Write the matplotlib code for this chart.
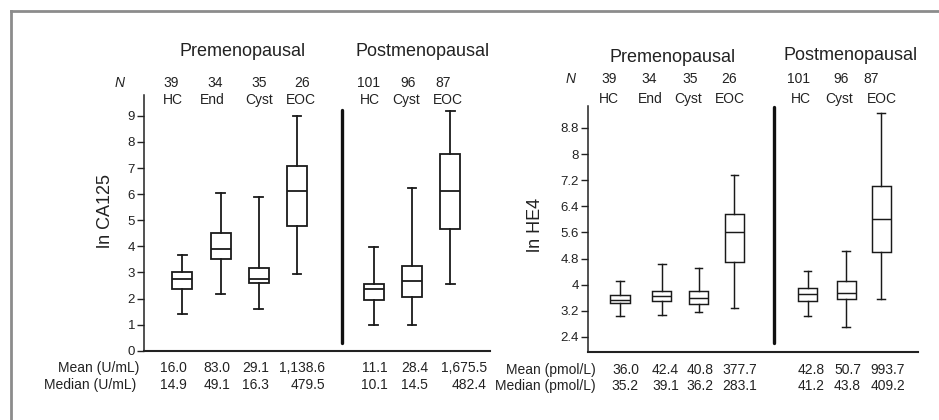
import matplotlib
matplotlib.use("Agg")
import matplotlib.pyplot as plt

plt.rcParams['font.family'] = ['Liberation Sans', 'DejaVu Sans']

# ---------------- data ----------------
groups = ["HC", "End", "Cyst", "EOC", "HC", "Cyst", "EOC"]
n_counts = ["39", "34", "35", "26", "101", "96", "87"]

ca125_whislo = [1.41, 2.17, 1.61, 2.94, 0.99, 0.99, 2.56]
ca125_q1     = [2.35, 3.50, 2.60, 4.79, 1.94, 2.06, 4.65]
ca125_med    = [2.74, 3.89, 2.76, 6.13, 2.37, 2.68, 6.13]
ca125_q3     = [3.00, 4.50, 3.17, 7.09, 2.56, 3.26, 7.54]
ca125_whishi = [3.67, 6.06, 5.88, 9.01, 3.99, 6.23, 9.19]
ca125_mean_txt = ["16.0", "83.0", "29.1", "1,138.6", "11.1", "28.4", "1,675.5"]
ca125_median_txt = ["14.9", "49.1", "16.3", "479.5", "10.1", "14.5", "482.4"]

he4_whislo = [3.03, 3.07, 3.17, 3.29, 3.03, 2.71, 3.57]
he4_q1     = [3.45, 3.49, 3.40, 4.70, 3.49, 3.57, 5.01]
he4_med    = [3.54, 3.66, 3.58, 5.62, 3.71, 3.74, 6.01]
he4_q3     = [3.70, 3.82, 3.80, 6.17, 3.89, 4.12, 7.02]
he4_whishi = [4.12, 4.64, 4.51, 7.36, 4.42, 5.04, 9.27]
he4_mean_txt = ["36.0", "42.4", "40.8", "377.7", "42.8", "50.7", "993.7"]
he4_median_txt = ["35.2", "39.1", "36.2", "283.1", "41.2", "43.8", "409.2"]

ca125_ticks = [0, 1, 2, 3, 4, 5, 6, 7, 8, 9]
he4_ticks = [2.4, 3.2, 4.0, 4.8, 5.6, 6.4, 7.2, 8.0, 8.8]
he4_ticklabels = ["2.4", "3.2", "4", "4.8", "5.6", "6.4", "7.2", "8", "8.8"]

# ---------------- layout ----------------
W, H = 939, 420
fig = plt.figure(figsize=(W / 100, H / 100), dpi=100)
INK = "#222222"

def fx(px):
    return px / W

def fy(py):
    return 1 - py / H

# frame lines (left & top)
fig.add_artist(plt.Line2D([fx(11), fx(11)], [fy(11), 0], color="#8c8c8c", lw=2.0))
fig.add_artist(plt.Line2D([fx(11), 1], [fy(11), fy(11)], color="#8c8c8c", lw=2.0))

def make_panel(rect, pos, xlim, ylim, whislo, q1, med, q3, whishi,
               ticks, ticklabels, box_w, cap_w, divider_x, divider_y, lw):
    ax = fig.add_axes(rect)
    stats = []
    for i in range(len(pos)):
        stats.append(dict(whislo=whislo[i], q1=q1[i], med=med[i], q3=q3[i],
                          whishi=whishi[i], fliers=[]))
    ax.bxp(stats, positions=pos, widths=box_w, capwidths=cap_w,
           showfliers=False, patch_artist=True,
           boxprops=dict(facecolor="white", edgecolor="#1a1a1a", linewidth=lw),
           medianprops=dict(color="#1a1a1a", linewidth=lw),
           whiskerprops=dict(color="#1a1a1a", linewidth=lw),
           capprops=dict(color="#1a1a1a", linewidth=lw))
    ax.plot([divider_x, divider_x], divider_y, color="#111111", lw=2.4,
            solid_capstyle="round", clip_on=False)
    ax.set_xlim(*xlim)
    ax.set_ylim(*ylim)
    ax.set_xticks([])
    ax.set_yticks(ticks)
    ax.set_yticklabels(ticklabels)
    ax.tick_params(axis="y", direction="out", length=5, width=1.0, pad=1.5,
                   labelsize=9.5, colors=INK)
    for s in ["top", "right"]:
        ax.spines[s].set_visible(False)
    ax.spines["left"].set_linewidth(1.1)
    ax.spines["bottom"].set_linewidth(1.5)
    ax.spines["left"].set_color(INK)
    ax.spines["bottom"].set_color(INK)
    ax.patch.set_alpha(0)
    return ax

# left panel
axL = make_panel([fx(144), fy(350.7), fx(490) - fx(144), (350.7 - 95) / H],
                 [1, 2, 3, 4, 6, 7, 8], (0.0, 9.04), (0, 9.8),
                 ca125_whislo, ca125_q1, ca125_med, ca125_q3, ca125_whishi,
                 ca125_ticks, [str(t) for t in ca125_ticks],
                 0.52, 0.23, 5.17, [0.3, 9.23], 1.3)

# right panel
axR = make_panel([fx(587.7), fy(351.7), fx(917.7) - fx(587.7), (351.7 - 106) / H],
                 [1, 2.1, 3.06, 4, 5.92, 6.93, 7.85], (0.152, 8.81), (1.95, 9.47),
                 he4_whislo, he4_q1, he4_med, he4_q3, he4_whishi,
                 he4_ticks, he4_ticklabels,
                 0.5, 0.19, 5.04, [2.22, 9.45], 1.05)

# y labels
fig.text(fx(105), fy(211.5), "ln CA125", rotation=90, ha="center", va="center",
         fontsize=13, color=INK)
fig.text(fx(536), fy(224.5), "ln HE4", rotation=90, ha="center", va="center",
         fontsize=13, color=INK)

# titles
fig.text(fx(242.5), fy(52), "Premenopausal", ha="center", va="center", fontsize=13, color=INK)
fig.text(fx(423), fy(52), "Postmenopausal", ha="center", va="center", fontsize=13, color=INK)
fig.text(fx(672.5), fy(57), "Premenopausal", ha="center", va="center", fontsize=13, color=INK)
fig.text(fx(851), fy(55), "Postmenopausal", ha="center", va="center", fontsize=13, color=INK)

# header rows
L_n_x = [171, 215.5, 259, 302, 368, 408, 443]
L_g_x = [173, 212, 258.7, 301, 370, 406, 448]
R_n_x = [608.7, 649, 690, 729, 798.7, 841, 871.5]
R_g_x = [608.7, 650, 688, 730, 801, 839, 881.7]

fig.text(fx(120), fy(82.7), "N", style="italic", ha="center", va="center", fontsize=10, color=INK)
fig.text(fx(570.5), fy(79), "N", style="italic", ha="center", va="center", fontsize=10, color=INK)
for i in range(len(groups)):
    fig.text(fx(L_n_x[i]), fy(82.7), n_counts[i], ha="center", va="center", fontsize=10, color=INK)
    fig.text(fx(L_g_x[i]), fy(100), groups[i], ha="center", va="center", fontsize=10, color=INK)
    fig.text(fx(R_n_x[i]), fy(79), n_counts[i], ha="center", va="center", fontsize=10, color=INK)
    fig.text(fx(R_g_x[i]), fy(99), groups[i], ha="center", va="center", fontsize=10, color=INK)

# footer rows
L_val_right = [187, 230, 269, 325, 388, 428, 487]
R_val_right = [639, 679, 714, 757, 825, 861, 905]
fig.text(fx(139.3), fy(368), "Mean (U/mL)", ha="right", va="center", fontsize=10, color=INK)
fig.text(fx(136.7), fy(385), "Median (U/mL)", ha="right", va="center", fontsize=10, color=INK)
fig.text(fx(596), fy(370), "Mean (pmol/L)", ha="right", va="center", fontsize=10, color=INK)
fig.text(fx(596), fy(386), "Median (pmol/L)", ha="right", va="center", fontsize=10, color=INK)
for i in range(len(groups)):
    fig.text(fx(L_val_right[i]), fy(368), ca125_mean_txt[i], ha="right", va="center", fontsize=10, color=INK)
    fig.text(fx(L_val_right[i]), fy(385), ca125_median_txt[i], ha="right", va="center", fontsize=10, color=INK)
    fig.text(fx(R_val_right[i]), fy(370), he4_mean_txt[i], ha="right", va="center", fontsize=10, color=INK)
    fig.text(fx(R_val_right[i]), fy(386), he4_median_txt[i], ha="right", va="center", fontsize=10, color=INK)

fig.savefig("out.png", dpi=100)
